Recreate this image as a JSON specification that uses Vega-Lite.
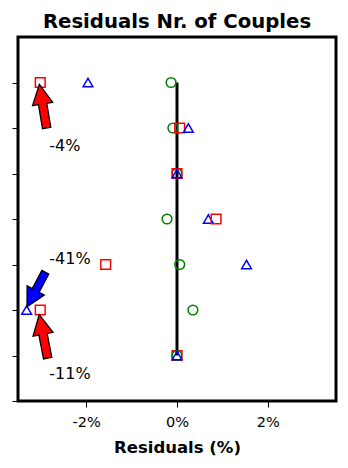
{
  "$schema": "https://vega.github.io/schema/vega-lite/v6.json",
  "width": 318,
  "height": 364,
  "autosize": {"type": "none"},
  "padding": {"left": 18, "top": 37, "right": 12, "bottom": 67},
  "background": "white",
  "title": {"text": "Residuals Nr. of Couples", "fontSize": 19.7, "font": "DejaVu Sans", "fontWeight": "bold", "anchor": "middle", "offset": 5, "color": "black"},
  "config": {
    "view": {"stroke": "black", "strokeWidth": 3},
    "font": "DejaVu Sans"
  },
  "datasets": {
    "points": [
      {"row": 7, "series": "A", "value": -3.01},
      {"row": 7, "series": "B", "value": -1.96},
      {"row": 7, "series": "C", "value": -0.13},
      {"row": 6, "series": "C", "value": -0.09},
      {"row": 6, "series": "A", "value": 0.06},
      {"row": 6, "series": "B", "value": 0.25},
      {"row": 5, "series": "C", "value": 0.0},
      {"row": 5, "series": "A", "value": 0.0},
      {"row": 5, "series": "B", "value": 0.0},
      {"row": 4, "series": "C", "value": -0.22},
      {"row": 4, "series": "B", "value": 0.69},
      {"row": 4, "series": "A", "value": 0.86},
      {"row": 3, "series": "A", "value": -1.57},
      {"row": 3, "series": "C", "value": 0.06},
      {"row": 3, "series": "B", "value": 1.53},
      {"row": 2, "series": "B", "value": -3.31},
      {"row": 2, "series": "A", "value": -3.01},
      {"row": 2, "series": "C", "value": 0.35},
      {"row": 1, "series": "A", "value": 0.0},
      {"row": 1, "series": "C", "value": 0.0},
      {"row": 1, "series": "B", "value": 0.0}
    ],
    "redArrows": [
      {"x": -2.95, "y": 6.48, "angle": 350.5},
      {"x": -2.94, "y": 1.42, "angle": 349}
    ],
    "blueArrows": [
      {"x": -3.1, "y": 2.45, "angle": 208}
    ],
    "labels": [
      {"x": -2.81, "y": 5.6, "text": "-4%"},
      {"x": -2.81, "y": 3.12, "text": "-41%"},
      {"x": -2.81, "y": 0.59, "text": "-11%"}
    ]
  },
  "layer": [
    {
      "data": {"values": [{"x": 0, "y": 1, "y2": 7}]},
      "mark": {"type": "rule", "color": "black", "strokeWidth": 3},
      "encoding": {
        "x": {"field": "x", "type": "quantitative", "scale": {"domain": [-3.5, 3.5], "nice": false, "zero": false},
          "axis": {"values": [-2, 0, 2], "labelExpr": "datum.value + '%'", "title": "Residuals (%)", "titleFontSize": 16.5, "titleFontWeight": "bold", "titleColor": "black", "labelFontSize": 14.5, "labelColor": "black", "tickColor": "black", "tickSize": 6, "domain": false, "grid": false, "labelPadding": 8, "titlePadding": 11}},
        "y": {"field": "y", "type": "quantitative", "scale": {"domain": [0, 8], "nice": false, "zero": false},
          "axis": {"values": [0, 1, 2, 3, 4, 5, 6, 7], "labels": false, "title": null, "tickColor": "black", "tickSize": 6, "domain": false, "grid": false}},
        "y2": {"field": "y2"}
      }
    },
    {
      "data": {"name": "points"},
      "mark": {"type": "point", "filled": false, "strokeWidth": 1.5, "size": 95, "opacity": 1},
      "encoding": {
        "x": {"field": "value", "type": "quantitative"},
        "y": {"field": "row", "type": "quantitative"},
        "color": {"field": "series", "type": "nominal", "scale": {"domain": ["A", "B", "C"], "range": ["#ff0000", "#0000ff", "#008000"]}, "legend": null},
        "shape": {"field": "series", "type": "nominal", "scale": {"domain": ["A", "B", "C"], "range": ["square", "triangle-up", "circle"]}, "legend": null}
      }
    },
    {
      "data": {"name": "redArrows"},
      "mark": {"type": "point", "shape": "M0,-1L0.46,-0.1L0.19,-0.1L0.19,1L-0.19,1L-0.19,-0.1L-0.46,-0.1Z", "size": 1960, "filled": true, "fill": "#ff0000", "stroke": "black", "strokeWidth": 1.3, "opacity": 1},
      "encoding": {
        "x": {"field": "x", "type": "quantitative"},
        "y": {"field": "y", "type": "quantitative"},
        "angle": {"field": "angle", "type": "quantitative", "scale": null}
      }
    },
    {
      "data": {"name": "blueArrows"},
      "mark": {"type": "point", "shape": "M0,-1L0.5,-0.05L0.2,-0.05L0.2,1L-0.2,1L-0.2,-0.05L-0.5,-0.05Z", "size": 1521, "filled": true, "fill": "#0000ff", "stroke": "black", "strokeWidth": 1.3, "opacity": 1},
      "encoding": {
        "x": {"field": "x", "type": "quantitative"},
        "y": {"field": "y", "type": "quantitative"},
        "angle": {"field": "angle", "type": "quantitative", "scale": null}
      }
    },
    {
      "data": {"name": "labels"},
      "mark": {"type": "text", "align": "left", "baseline": "middle", "fontSize": 16, "color": "black"},
      "encoding": {
        "x": {"field": "x", "type": "quantitative"},
        "y": {"field": "y", "type": "quantitative"},
        "text": {"field": "text"}
      }
    }
  ]
}
